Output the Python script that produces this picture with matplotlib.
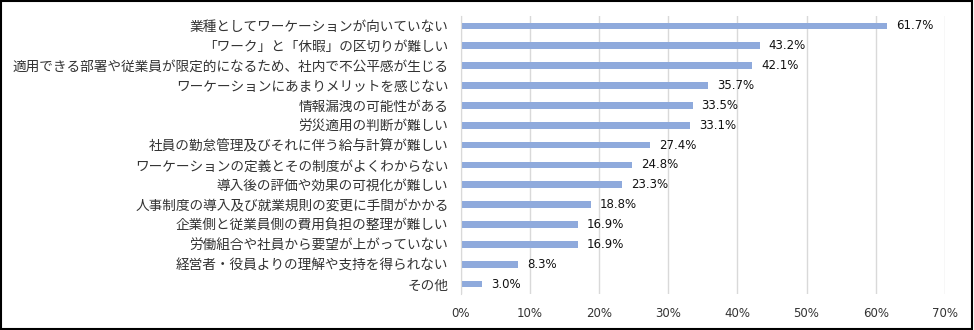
import matplotlib
matplotlib.use("Agg")
import matplotlib.pyplot as plt
from matplotlib.patches import Rectangle
from matplotlib.ticker import MultipleLocator, FuncFormatter

categories = [
    "業種としてワーケーションが向いていない",
    "「ワーク」と「休暇」の区切りが難しい",
    "適用できる部署や従業員が限定的になるため、社内で不公平感が生じる",
    "ワーケーションにあまりメリットを感じない",
    "情報漏洩の可能性がある",
    "労災適用の判断が難しい",
    "社員の勤怠管理及びそれに伴う給与計算が難しい",
    "ワーケーションの定義とその制度がよくわからない",
    "導入後の評価や効果の可視化が難しい",
    "人事制度の導入及び就業規則の変更に手間がかかる",
    "企業側と従業員側の費用負担の整理が難しい",
    "労働組合や社員から要望が上がっていない",
    "経営者・役員よりの理解や支持を得られない",
    "その他",
]
values = [61.7, 43.2, 42.1, 35.7, 33.5, 33.1, 27.4, 24.8, 23.3, 18.8, 16.9, 16.9, 8.3, 3.0]

plt.rcParams['font.family'] = ['Noto Sans CJK JP', 'DejaVu Sans']

fig = plt.figure(figsize=(9.74, 3.30), dpi=100)
ax = fig.add_axes([0.4733, 0.109, 0.4967, 0.8425])

ypos = list(range(len(categories)))
ax.barh(ypos, values, height=0.34, color="#8FAADC", zorder=3)

for y, v in zip(ypos, values):
    ax.text(v + 1.3, y, f"{v:.1f}%", va="center", ha="left", fontsize=8.5,
            family="DejaVu Sans", color="#111111")

ax.set_yticks(ypos)
ax.set_yticklabels(categories, fontsize=9.85, color="#333333")
ax.set_ylim(len(categories) - 0.5, -0.5)
ax.set_xlim(0, 70)
ax.xaxis.set_major_locator(MultipleLocator(10))
ax.xaxis.set_major_formatter(FuncFormatter(lambda x, p: f"{x:.0f}%"))
ax.tick_params(axis="x", labelsize=8.5, length=0, pad=9, colors="#333333")
ax.tick_params(axis="y", length=0, pad=9)
for lab in ax.get_xticklabels():
    lab.set_family("DejaVu Sans")

ax.grid(axis="x", color="#D9D9D9", linewidth=1, zorder=0)
for s in ["top", "right", "bottom"]:
    ax.spines[s].set_visible(False)
ax.spines["left"].set_color("#D9D9D9")
ax.spines["left"].set_zorder(4)

# black frame round the whole picture
fig.patches.append(Rectangle((0.001, 0.002), 0.997, 0.995, transform=fig.transFigure,
                             fill=False, edgecolor="black", linewidth=1.5))

fig.savefig("out.png", dpi=100)
